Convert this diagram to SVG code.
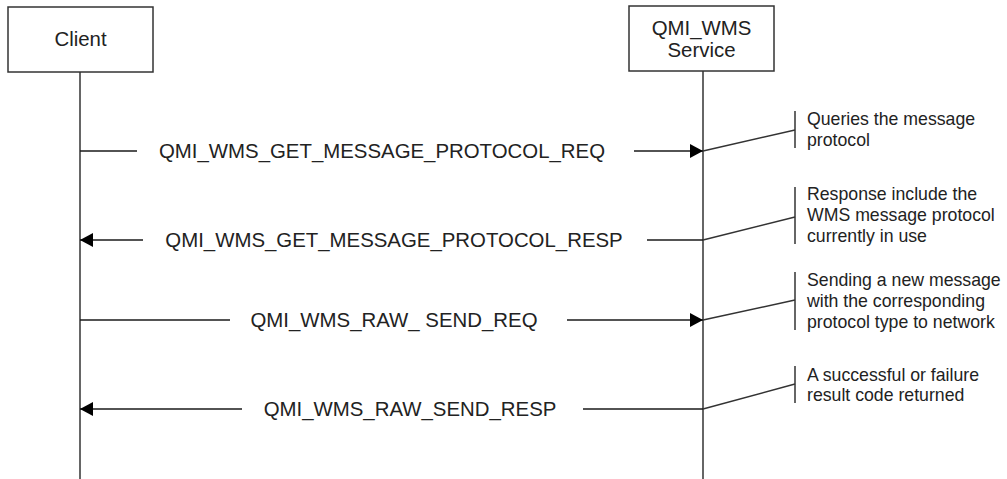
<svg xmlns="http://www.w3.org/2000/svg" width="1007" height="479" viewBox="0 0 1007 479">
<style>
.box{fill:#fff;stroke:#333;stroke-width:1.5}
.life{stroke:#333;stroke-width:1.5;fill:none}
.msg{stroke:#1a1a1a;stroke-width:1.5;fill:none}
.note{stroke:#333;stroke-width:1.5;fill:none}
.t{font-family:"Liberation Sans",Arial,sans-serif;fill:#222}
.lbl{font-size:20.4px;text-anchor:middle}
.hd{font-size:20.4px;text-anchor:middle}
.nt{font-size:17.7px}
</style>
<defs>
<marker id="ah" markerUnits="userSpaceOnUse" markerWidth="14" markerHeight="15" refX="13" refY="7" orient="auto">
<path d="M0,0 L13,7 L0,14 z" fill="#000"/>
</marker>
</defs>
<rect width="1007" height="479" fill="#fff"/>
<g id="client">
<rect class="box" x="8" y="7" width="145" height="65"/>
<text class="t hd" x="80.5" y="46">Client</text>
<line class="life" x1="80" y1="72" x2="80" y2="479"/>
</g>
<g id="service">
<rect class="box" x="629" y="6" width="145" height="65"/>
<text class="t hd" x="701.5" y="35">QMI_WMS</text>
<text class="t hd" x="701.5" y="57">Service</text>
<line class="life" x1="703" y1="71" x2="703" y2="479"/>
</g>
<g id="connectors">
<line class="msg" x1="80" y1="151" x2="137" y2="151"/>
<line class="msg" x1="634" y1="151" x2="703" y2="151" marker-end="url(#ah)"/>
<text class="t lbl" x="382" y="158">QMI_WMS_GET_MESSAGE_PROTOCOL_REQ</text>
<line class="msg" x1="143" y1="240" x2="80" y2="240" marker-end="url(#ah)"/>
<line class="msg" x1="647" y1="240" x2="703" y2="240"/>
<text class="t lbl" x="394" y="247">QMI_WMS_GET_MESSAGE_PROTOCOL_RESP</text>
<line class="msg" x1="80" y1="320" x2="230" y2="320"/>
<line class="msg" x1="567" y1="320" x2="703" y2="320" marker-end="url(#ah)"/>
<text class="t lbl" x="394" y="327">QMI_WMS_RAW_ SEND_REQ</text>
<line class="msg" x1="242" y1="409" x2="80" y2="409" marker-end="url(#ah)"/>
<line class="msg" x1="583" y1="409" x2="703" y2="409"/>
<text class="t lbl" x="410" y="416">QMI_WMS_RAW_SEND_RESP</text>
</g>
<g id="note1">
<line class="note" x1="703" y1="151" x2="795" y2="130"/>
<line class="note" x1="795" y1="111" x2="795" y2="148"/>
<text class="t nt" x="807" y="125">Queries the message</text>
<text class="t nt" x="807" y="146">protocol</text>
</g>
<g id="note2">
<line class="note" x1="703" y1="240" x2="795" y2="217"/>
<line class="note" x1="795" y1="187" x2="795" y2="244"/>
<text class="t nt" x="807" y="200">Response include the</text>
<text class="t nt" x="807" y="221">WMS message protocol</text>
<text class="t nt" x="807" y="242">currently in use</text>
</g>
<g id="note3">
<line class="note" x1="703" y1="320" x2="795" y2="300"/>
<line class="note" x1="795" y1="272" x2="795" y2="330"/>
<text class="t nt" x="807" y="286">Sending a new message</text>
<text class="t nt" x="807" y="307">with the corresponding</text>
<text class="t nt" x="807" y="328">protocol type to network</text>
</g>
<g id="note4">
<line class="note" x1="703" y1="409" x2="795" y2="384"/>
<line class="note" x1="795" y1="366" x2="795" y2="403"/>
<text class="t nt" x="807" y="381">A successful or failure</text>
<text class="t nt" x="807" y="401">result code returned</text>
</g>
</svg>
